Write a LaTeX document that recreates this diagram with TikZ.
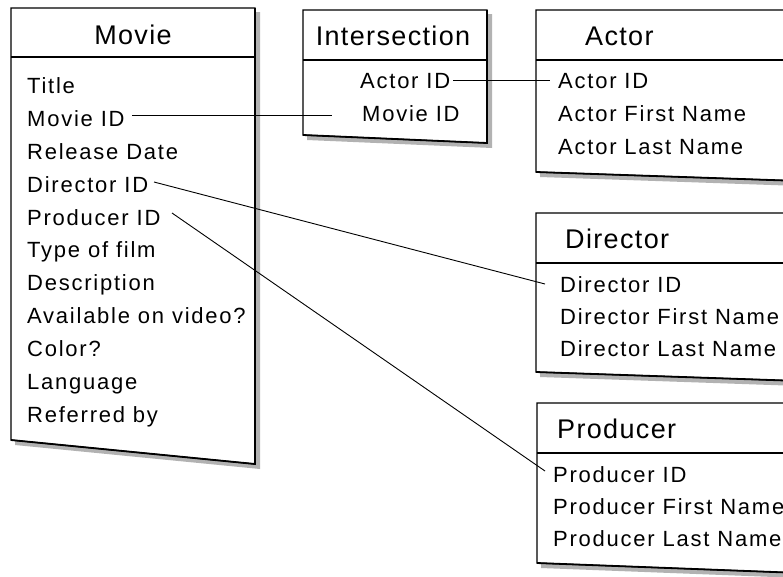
\documentclass[tikz,border=0pt]{standalone}
\usepackage{fontspec}
\setmainfont{Liberation Sans}
\newfontfamily\fieldfam[LetterSpace=8]{Liberation Sans}
\newfontfamily\titlefam[LetterSpace=5]{Liberation Sans}
\begin{document}
\begin{tikzpicture}[x=1pt,y=-1pt,
  field/.style={anchor=base west,inner sep=0pt,font=\fieldfam\fontsize{22}{26}\selectfont},
  ttl/.style={anchor=base west,inner sep=0pt,font=\titlefam\fontsize{27}{31}\selectfont},
  shadow/.style={fill=black!30,draw=none},
  boxline/.style={draw=black,line width=1.1pt,fill=white},
  edge/.style={draw=black,line width=1.8pt},
  conn/.style={draw=black,line width=0.9pt}]
\useasboundingbox (0,0) rectangle (783,576);
% ---- Movie ----
\fill[shadow] (15,12) -- (260,12) -- (260,469) -- (15,445) -- cycle;
\path[boxline] (11,8) -- (255,8) -- (255,464) -- (11,440) -- cycle;
\draw[edge] (255,8) -- (255,464) -- (11,440);
\draw[line width=1.1pt] (11,57) -- (255,57);
% ---- Intersection ----
\fill[shadow] (307,14) -- (492,14) -- (492,148) -- (307,140) -- cycle;
\path[boxline] (303,10) -- (487,10) -- (487,143) -- (303,135) -- cycle;
\draw[edge] (487,10) -- (487,143) -- (303,135);
\draw[line width=1.1pt] (303,60) -- (487,60);
% ---- Actor ----
\fill[shadow] (540,14) -- (800,14) -- (800,186) -- (540,177) -- cycle;
\path[boxline] (536,10) -- (800,10) -- (800,181) -- (536,172) -- cycle;
\draw[edge] (536,172) -- (800,181);
\draw[line width=1.1pt] (536,60) -- (800,60);
% ---- Director ----
\fill[shadow] (540,217) -- (800,217) -- (800,386) -- (540,377) -- cycle;
\path[boxline] (536,213) -- (800,213) -- (800,381) -- (536,372) -- cycle;
\draw[edge] (536,372) -- (800,381);
\draw[line width=1.1pt] (536,263) -- (800,263);
% ---- Producer ----
\fill[shadow] (541,407) -- (800,407) -- (800,578) -- (541,568) -- cycle;
\path[boxline] (537,403) -- (800,403) -- (800,573) -- (537,563) -- cycle;
\draw[edge] (537,563) -- (800,573);
\draw[line width=1.1pt] (537,453) -- (800,453);
% ---- Titles ----
\node[ttl,anchor=base] (tmovie) at (133,44) {Movie};
\node[ttl,anchor=base] (tinter) at (393,45) {Intersection};
\node[ttl] (tactor) at (585,45) {Actor};
\node[ttl] (tdirector) at (565,248) {Director};
\node[ttl] (tproducer) at (557,438) {Producer};
% ---- Movie fields ----
\node[field] (m1) at (27,93) {Title};
\node[field] (m2) at (27,126) {Movie ID};
\node[field] (m3) at (27,159) {Release Date};
\node[field] (m4) at (27,192) {Director ID};
\node[field] (m5) at (27,225) {Producer ID};
\node[field] (m6) at (27,257.5) {Type of film};
\node[field] (m7) at (27,290.5) {Description};
\node[field] (m8) at (27,323.5) {Available on video?};
\node[field] (m9) at (27,356.5) {Color?};
\node[field] (m10) at (27,389.5) {Language};
\node[field] (m11) at (27,422.5) {Referred by};
% ---- Intersection fields ----
\node[field] (i1) at (360,88) {Actor ID};
\node[field] (i2) at (362,121) {Movie ID};
% ---- Actor fields ----
\node[field] (a1) at (558,88) {Actor ID};
\node[field] (a2) at (558,121) {Actor First Name};
\node[field] (a3) at (558,154) {Actor Last Name};
% ---- Director fields ----
\node[field] (d1) at (560,292) {Director ID};
\node[field] (d2) at (560,324) {Director First Name};
\node[field] (d3) at (560,356) {Director Last Name};
% ---- Producer fields ----
\node[field] (p1) at (553,482) {Producer ID};
\node[field] (p2) at (553,514) {Producer First Name};
\node[field] (p3) at (553,546) {Producer Last Name};
% ---- connector ends ----
\coordinate (cm2) at (132,115);
\coordinate (ci2) at (332,115);
\coordinate (ci1) at (453,80);
\coordinate (ca1) at (550,80);
\coordinate (cm4) at (154,182);
\coordinate (cd1) at (545,284);
\coordinate (cm5) at (172,213);
\coordinate (cp1) at (545,471);
\draw[conn] (cm2) -- (ci2);
\draw[conn] (ci1) -- (ca1);
\draw[conn] (cm4) -- (cd1);
\draw[conn] (cm5) -- (cp1);
\end{tikzpicture}
\end{document}
